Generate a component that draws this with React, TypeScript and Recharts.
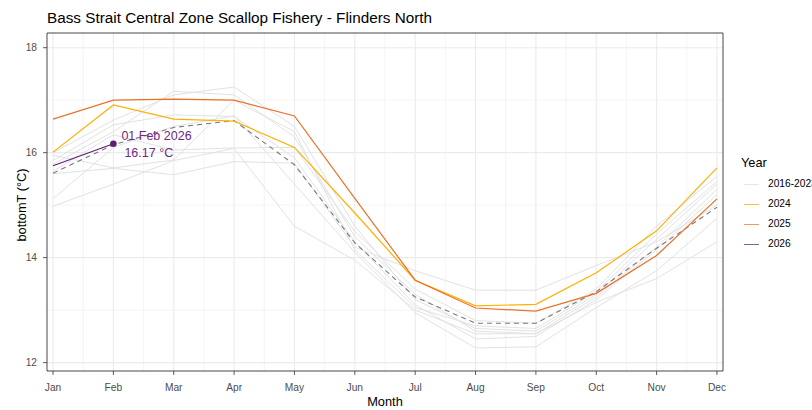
import React from 'react';
import { LineChart, Line, XAxis, YAxis, CartesianGrid, ReferenceArea, ReferenceDot } from 'recharts';

const monthLabels = ['Jan', 'Feb', 'Mar', 'Apr', 'May', 'Jun', 'Jul', 'Aug', 'Sep', 'Oct', 'Nov', 'Dec'];
const monthNums = [1, 2, 3, 4, 5, 6, 7, 8, 9, 10, 11, 12];
const yTicks = [12, 14, 16, 18];
const yMinor = [13, 15, 17];
const xMinor = [1.5, 2.5, 3.5, 4.5, 5.5, 6.5, 7.5, 8.5, 9.5, 10.5, 11.5];

const g2016 = [14.98, 15.4, 15.85, 16.08, 14.6, 13.95, 13.0, 12.55, 12.55, 13.15, 13.6, 14.3];
const g2017 = [15.12, 16.1, 16.5, 16.7, 15.4, 14.1, 12.95, 12.28, 12.3, 13.05, 13.75, 14.75];
const g2018 = [15.6, 15.7, 15.58, 15.83, 15.8, 14.2, 13.75, 13.38, 13.38, 13.85, 14.3, 15.0];
const g2019 = [15.78, 16.4, 17.17, 17.1, 16.3, 14.4, 13.3, 12.6, 12.55, 13.25, 14.2, 15.3];
const g2020 = [16.0, 16.62, 17.1, 17.25, 16.5, 14.6, 13.2, 12.65, 12.6, 13.3, 14.35, 15.4];
const g2021 = [15.85, 16.53, 16.72, 16.69, 15.9, 14.3, 13.1, 12.45, 12.5, 13.2, 14.15, 15.2];
const g2022 = [15.65, 16.34, 16.05, 16.09, 16.1, 14.5, 13.4, 12.8, 12.75, 13.4, 14.6, 15.55];
const g2023 = [15.95, 15.71, 15.86, 17.0, 16.4, 14.15, 13.05, 12.7, 12.65, 13.35, 14.45, 15.45];
const meanT = [15.61, 16.15, 16.48, 16.61, 15.77, 14.28, 13.25, 12.75, 12.75, 13.35, 14.18, 14.96];
const y2024 = [16.01, 16.91, 16.64, 16.6, 16.1, 14.85, 13.57, 13.08, 13.11, 13.71, 14.51, 15.71];
const y2025 = [16.64, 17.0, 17.02, 17.0, 16.7, 15.13, 13.57, 13.04, 12.98, 13.32, 14.04, 15.12];
const y2026 = [15.75, 16.17];

const greyYears = ['2016', '2017', '2018', '2019', '2020', '2021', '2022', '2023'];
const greySeries = [g2016, g2017, g2018, g2019, g2020, g2021, g2022, g2023];

const latestMonth = 2;
const latestValue = 16.17;
const latestLabel = '01 Feb 2026';

const data = monthNums.map((m, i) => {
  const row: any = { m, mean: meanT[i], y2024: y2024[i], y2025: y2025[i], y2026: i < y2026.length ? y2026[i] : null };
  greyYears.forEach((yr, k) => {
    row['g' + yr] = greySeries[k][i];
  });
  return row;
});

const FONT = '"Liberation Sans", Arial, Helvetica, sans-serif';
const PURPLE = '#5E1F6E';
const LABEL_PURPLE = '#6E2A80';

const legendItems = [
  { label: '2016-2023', color: '#E6E6E6' },
  { label: '2024', color: '#FFBC33' },
  { label: '2025', color: '#EE9A5F' },
  { label: '2026', color: '#8E5C9C' },
];

const Annot = (props: any) => {
  const { cx, cy } = props;
  return (
    <g>
      <circle cx={cx} cy={cy} r={3.3} fill={PURPLE} />
      <text x={cx + 8} y={cy - 8} fill={LABEL_PURPLE} fontSize={12.5} fontFamily={FONT} dominantBaseline="central">
        {latestLabel}
      </text>
      <text x={cx + 11} y={cy + 9.5} fill={LABEL_PURPLE} fontSize={12.5} fontFamily={FONT} dominantBaseline="central">
        {latestValue.toFixed(2) + ' °C'}
      </text>
    </g>
  );
};

export default function App() {
  return (
    <div style={{ position: 'absolute', left: 0, top: 0, width: 812, height: 410, background: '#fff', fontFamily: FONT }}>
      <LineChart width={812} height={410} data={data} margin={{ top: 33, right: 89, bottom: 0, left: 0 }}>
        <CartesianGrid stroke="#EDEDED" strokeWidth={0.6} horizontalValues={yMinor} verticalValues={xMinor} />
        <CartesianGrid stroke="#EBEBEB" strokeWidth={1.1} horizontalValues={yTicks} verticalValues={monthNums} />
        <XAxis
          dataKey="m"
          type="number"
          domain={[0.9, 12.1]}
          ticks={monthNums}
          allowDataOverflow
          tickFormatter={(v: number) => monthLabels[v - 1]}
          height={39}
          tickSize={4}
          tickMargin={9}
          axisLine={false}
          tickLine={{ stroke: '#333333', strokeWidth: 0.8 }}
          tick={{ fill: '#4D4D4D', fontSize: 10.2, fontFamily: FONT }}
          interval={0}
        />
        <YAxis
          type="number"
          domain={[11.84, 18.28]}
          ticks={yTicks}
          allowDataOverflow
          width={47}
          tickSize={4}
          tickMargin={6}
          axisLine={false}
          tickLine={{ stroke: '#333333', strokeWidth: 0.8 }}
          tick={{ fill: '#4D4D4D', fontSize: 10.2, fontFamily: FONT }}
        />
        {greyYears.map((yr) => (
          <Line key={yr} dataKey={'g' + yr} stroke="#E2E2E2" strokeWidth={1} dot={false} isAnimationActive={false} type="linear" />
        ))}
        <Line dataKey="mean" stroke="#7A7A7A" strokeWidth={1.1} strokeDasharray="5 4" dot={false} isAnimationActive={false} type="linear" />
        <Line dataKey="y2024" stroke="#FFB000" strokeWidth={1.2} dot={false} isAnimationActive={false} type="linear" />
        <Line dataKey="y2025" stroke="#E8722A" strokeWidth={1.2} dot={false} isAnimationActive={false} type="linear" />
        <Line dataKey="y2026" stroke={PURPLE} strokeWidth={1.2} dot={false} isAnimationActive={false} type="linear" />
        <ReferenceDot x={latestMonth} y={latestValue} shape={Annot} ifOverflow="visible" />
        <ReferenceArea x1={0.9} x2={12.1} y1={11.84} y2={18.28} fill="none" stroke="#333333" strokeWidth={0.9} ifOverflow="visible" />
      </LineChart>
      <div style={{ position: 'absolute', left: 47, top: 9, fontSize: 15.3, color: '#000', whiteSpace: 'nowrap', lineHeight: '18px' }}>
        Bass Strait Central Zone Scallop Fishery - Flinders North
      </div>
      <div style={{ position: 'absolute', left: 335, width: 100, textAlign: 'center', top: 394, fontSize: 12.8, color: '#000', lineHeight: '16px' }}>
        Month
      </div>
      <div
        style={{
          position: 'absolute',
          left: 22,
          top: 205,
          transform: 'translate(-50%, -50%) rotate(-90deg)',
          fontSize: 12.8,
          color: '#000',
          whiteSpace: 'nowrap',
          lineHeight: '16px',
        }}
      >
        bottomT (°C)
      </div>
      <div style={{ position: 'absolute', left: 741, top: 155, fontSize: 12.8, color: '#000', lineHeight: '16px' }}>Year</div>
      {legendItems.map((it, i) => (
        <div key={it.label} style={{ position: 'absolute', left: 744, top: 176 + i * 20, height: 16, width: 68, overflow: 'hidden' }}>
          <div style={{ position: 'absolute', left: 0, top: 7.5, width: 15, height: 1.3, background: it.color }} />
          <div style={{ position: 'absolute', left: 24, top: 0, fontSize: 10.2, color: '#000', lineHeight: '16px', whiteSpace: 'nowrap' }}>
            {it.label}
          </div>
        </div>
      ))}
    </div>
  );
}
